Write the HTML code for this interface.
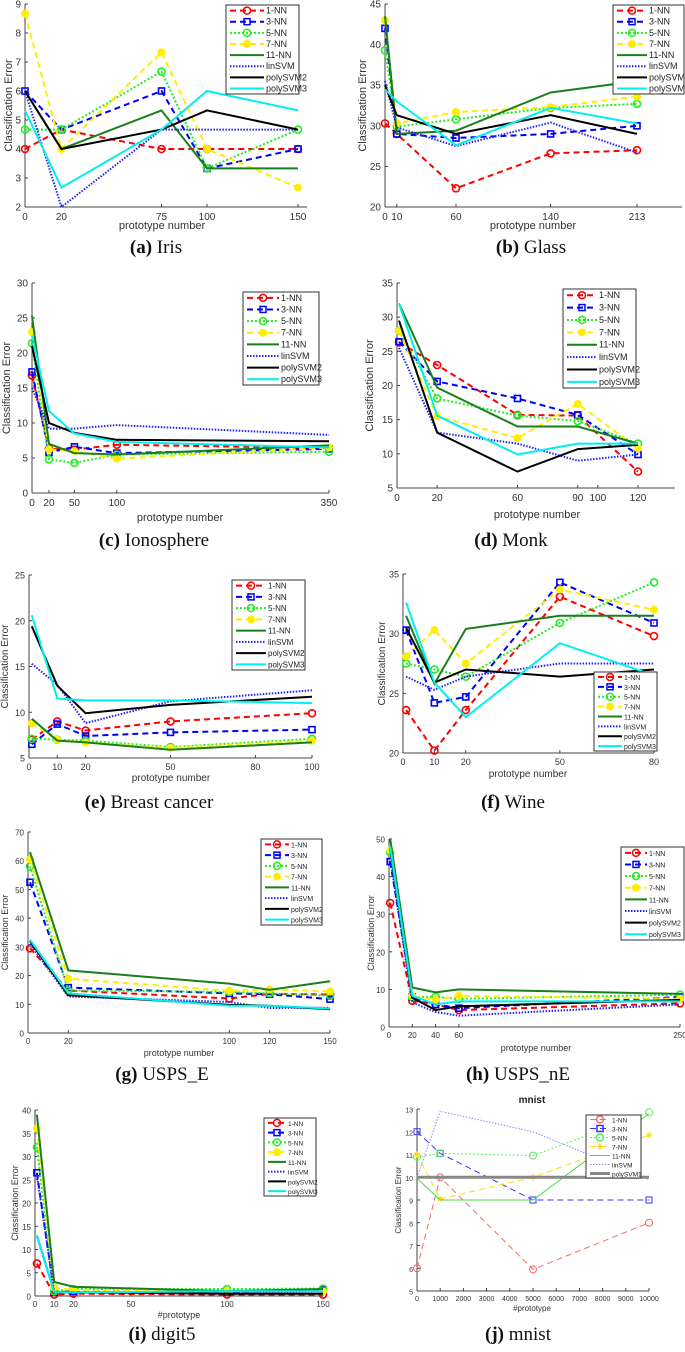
<!DOCTYPE html>
<html><head><meta charset="utf-8"><style>
body{margin:0;background:#fff;}
svg text{font-family:"Liberation Sans",sans-serif;}
.cap{font-family:"Liberation Serif",serif;font-size:19px;}
</style></head><body>
<svg id="fig" width="685" height="1347" viewBox="0 0 685 1347" xmlns="http://www.w3.org/2000/svg"></svg>
<script>
const seriesNames=["1-NN","3-NN","5-NN","7-NN","11-NN","linSVM","polySVM2","polySVM3"];
// (a) Iris
const irisX=[0,20,75,100,150];
const irisErr=[[4,4.67,4,4,4],[6,4.67,6,3.33,4],[4.67,4.67,6.67,3.33,4.67],[8.67,4,7.33,4,2.67],[6,4,5.33,3.33,3.33],[6,2,4.67,4.67,4.67],[6,4,4.67,5.33,4.67],[5.33,2.67,4.67,6,5.33]];
const irisXTicks=[0,20,75,100,150];const irisYTicks=[2,3,4,5,6,7,8,9];
// (b) Glass
const glassX=[0,10,60,140,213];
const glassErr=[[30.3,29,22.3,26.6,27],[42,29,28.5,29,30],[39.3,29.9,30.8,32.2,32.7],[43,30.3,31.7,32.3,33.6],[43.5,29,29.4,34.1,35.5],[35.5,29.8,27.5,30.4,26.7],[35,31.3,29,31.3,29],[34.5,33,27.6,32.2,30.3]];
const glassXTicks=[0,10,60,140,213];const glassYTicks=[20,25,30,35,40,45];
// (c) Ionosphere
const ionoX=[0,20,50,100,350];
const ionoErr=[[16.8,6.3,6.2,6.9,6.4],[17.3,5.8,6.6,5.7,6.3],[21.4,4.8,4.3,5.5,5.9],[23,6.2,6,4.9,6.5],[25.3,7,5.7,5.5,6.8],[15,9.2,9.2,9.7,8.3],[21,10,8.6,7.6,7.4],[22.5,11.7,8.5,7.3,6.5]];
const ionoXTicks=[0,20,50,100,350];const ionoYTicks=[0,5,10,15,20,25,30];
// (d) Monk
const monkX=[1,20,60,90,120];
const monkErr=[[26.3,23,15.7,15.6,7.4],[26.4,20.6,18.1,15.7,9.9],[28,18.1,15.6,14.8,11.5],[28,15.5,12.3,17.3,10.8],[32,19.7,14,14,11.5],[25.5,13.1,11.5,9,9.9],[29.5,13.1,7.4,10.7,11.3],[32,15.6,9.9,11.5,11.5]];
const monkXTicks=[0,20,60,90,100,120];const monkYTicks=[5,10,15,20,25,30,35];
// (e) Breast cancer
const breastX=[1,10,20,50,100];
const breastErr=[[7,9,8,9,9.9],[6.5,8.7,7.4,7.8,8.1],[7.1,7,6.9,6.2,7.1],[8.8,7,6.7,6.1,6.9],[9.3,6.9,6.7,5.9,6.7],[15.3,13,8.8,11.2,12.4],[19.4,12.9,9.9,10.8,11.7],[20.6,11.5,11.3,11.3,11]];
const breastXTicks=[0,10,20,50,80,100];const breastYTicks=[5,10,15,20,25];
// (f) Wine
const wineX=[1,10,20,50,80];
const wineErr=[[23.6,20.2,23.6,33.1,29.8],[30.3,24.2,24.7,34.3,30.9],[27.5,27,26.4,30.9,34.3],[28.1,30.3,27.5,33.7,32],[31.5,25.8,30.4,31.5,31.5],[26.4,25.3,26.4,27.5,27.5],[30.5,25.9,27,26.4,27],[32.6,25.9,23,29.2,26.5]];
const wineXTicks=[0,10,20,50,80];const wineYTicks=[20,25,30,35];
// (g) USPS_E
const uspsEX=[1,20,100,120,150];
const uspsEErr=[[29.5,14.8,12,13.6,13.4],[52.5,15.8,13.8,13.5,11.8],[58,14.8,14.3,13.8,13],[60.5,18.9,14.7,15.2,14.5],[63,21.8,17.2,15,18],[31,12.7,10.8,8.7,8.8],[32,13.2,9.8,9.5,8.3],[32.5,13.8,9.5,9.5,8.5]];
const uspsEXTicks=[0,20,100,120,150];const uspsEYTicks=[0,10,20,30,40,50,60,70];
// (h) USPS_nE
const uspsNX=[1,20,40,60,250];
const uspsNErr=[[33,7,6,4.5,6.3],[44,8,6,5,8],[46.5,8,8,7.5,8.6],[47,8.2,7.2,8.3,7.5],[50,10.5,9.2,10,8.8],[45,6.5,4,3,6],[47.5,7.8,4.5,5.5,7.2],[48,8.3,6,6.8,6.8]];
const uspsNXTicks=[0,20,40,60,250];const uspsNYTicks=[0,10,20,30,40,50];
// (i) digit5
const digitX=[1,10,20,100,150];
const digitErr=[[7,0.3,0.5,0.3,0.3],[26.5,0.8,1,0.8,1.3],[32,1,1.5,1.5,1.6],[36,1.8,1.3,1,1],[39,3,2,1,1.5],[26,0.8,0.8,0.5,1],[13,0.8,0.8,0.5,0.5],[13,0.8,0.8,1,1]];
const digitXTicks=[0,10,20,50,100,150];const digitYTicks=[0,5,10,15,20,25,30,35,40];
// (j) mnist
const mnistNames=["1-NN","3-NN","5-NN","7-NN","11-NN","linSVM","polySVM1"];
const mnistX=[0,1000,5000,10000];
const mnistErr=[[6,10,5.95,8],[12,11.05,9,9],[10.9,11.05,10.95,12.85],[11,9.05,10,11.85],[9.95,9,9,12.8],[10,12.9,12,9.9],[10,10,10,10]];
const mnistXTicks=[0,1000,2000,3000,4000,5000,6000,7000,8000,9000,10000];const mnistYTicks=[5,6,7,8,9,10,11,12,13];

const NS="http://www.w3.org/2000/svg";
const svg=document.getElementById('fig');
function mk(tag,attrs,parent){const e=document.createElementNS(NS,tag);for(const k in attrs)e.setAttribute(k,attrs[k]);(parent||svg).appendChild(e);return e;}
const styles=[
 {c:"#ff0000",d:"6,4",m:"circle",w:2},
 {c:"#0000ff",d:"6,4",m:"square",w:2},
 {c:"#22ee22",d:"2,2",m:"circle",w:2},
 {c:"#ffee00",d:"6,4",m:"dot",w:2},
 {c:"#1a7f1a",d:"",m:"",w:2},
 {c:"#2222ee",d:"1.5,1.5",m:"",w:2},
 {c:"#000000",d:"",m:"",w:2},
 {c:"#00f0f0",d:"",m:"",w:2}];
const mnistStyles=[
 {c:"#ff6666",d:"6,4",m:"circle",w:1},
 {c:"#3333ff",d:"6,4",m:"square",w:1},
 {c:"#55ee55",d:"2,2",m:"circle",w:1},
 {c:"#ffdd00",d:"6,4",m:"star",w:1},
 {c:"#44dd44",d:"",m:"",w:1},
 {c:"#8888ff",d:"1.5,1.5",m:"",w:1},
 {c:"#888888",d:"",m:"",w:3}];
function marker(g,m,x,y,c,w){
 if(m==="circle")mk('circle',{cx:x,cy:y,r:3.5,fill:"none",stroke:c,"stroke-width":w},g);
 else if(m==="square")mk('rect',{x:x-3,y:y-3,width:6,height:6,fill:"none",stroke:c,"stroke-width":w},g);
 else if(m==="dot")mk('circle',{cx:x,cy:y,r:3.5,fill:c,stroke:c},g);
 else if(m==="star"){mk('path',{d:`M${x-3},${y}H${x+3}M${x},${y-3}V${y+3}M${x-2},${y-2}L${x+2},${y+2}M${x-2},${y+2}L${x+2},${y-2}`,stroke:c,"stroke-width":1},g);}
}
function panel(p){
 const g=mk('g',{});
 
 
 const sx=v=>p.x0+(v-p.xmin)*(p.x1-p.x0)/(p.xmax-p.xmin);
 const sy=v=>p.yb-(v-p.ymin)*(p.yb-p.yt)/(p.ymax-p.ymin);
 const ax=mk('g',{},g);
 
 
 mk('line',{x1:p.x0,y1:p.yt,x2:p.x0,y2:p.yb,stroke:"#444","stroke-width":1},ax);
 mk('line',{x1:p.x0,y1:p.yb,x2:p.xend,y2:p.yb,stroke:"#444","stroke-width":1},ax);
 if(p.box){mk('line',{x1:p.x0,y1:p.yt,x2:p.xend,y2:p.yt,stroke:"#444"},ax);mk('line',{x1:p.xend,y1:p.yt,x2:p.xend,y2:p.yb,stroke:"#444"},ax);}
 p.yt_.forEach(v=>{const y=sy(v);mk('line',{x1:p.x0,y1:y,x2:p.x0+3,y2:y,stroke:"#444"},ax);
  const t=mk('text',{x:p.x0-4,y:y+3.5,"text-anchor":"end","font-size":p.fs,fill:"#333"},ax);t.textContent=v;});
 p.xt.forEach(v=>{const x=sx(v);mk('line',{x1:x,y1:p.yb,x2:x,y2:p.yb-3,stroke:"#444"},ax);
  const t=mk('text',{x:x,y:p.yb+p.fs+3,"text-anchor":"middle","font-size":p.fs,fill:"#333"},ax);t.textContent=v;});
 const yl=mk('text',{x:p.ylx,y:(p.yt+p.yb)/2,"text-anchor":"middle","font-size":p.fs+1,fill:"#333",transform:`rotate(-90 ${p.ylx} ${(p.yt+p.yb)/2})`},g);
 yl.textContent="Classification Error";
 
 
 const xl=mk('text',{x:p.xlx,y:p.xly,"text-anchor":"middle","font-size":p.fs+1,fill:"#333"},g);
 xl.textContent=p.xlabel;
 
 
 if(p.title){const tt=mk('text',{x:p.xlx,y:p.yt-6,"text-anchor":"middle","font-size":10,"font-weight":"bold",fill:"#222"},g);tt.textContent=p.title;
  
  }
 const sty=p.styles;
 p.data.forEach((row,i)=>{
  const s=sty[i];const sg=mk('g',{},g);
  
  
  const pts=row.map((v,j)=>sx(p.xs[j]).toFixed(1)+","+sy(v).toFixed(1)).join(" ");
  mk('polyline',{points:pts,fill:"none",stroke:s.c,"stroke-width":s.w,"stroke-dasharray":s.d||"none","stroke-linejoin":"miter"},sg);
  if(s.m)row.forEach((v,j)=>marker(sg,s.m,sx(p.xs[j]),sy(v),s.c,s.w===1?1:1.6));
 });
 // legend
 const L=p.leg;const lg=mk('g',{},g);
 
 
 mk('rect',{x:L.x,y:L.y,width:L.w,height:L.h,fill:"#fff",stroke:"#333","stroke-width":1},lg);
 const n=p.names.length,step=L.h/n;
 p.names.forEach((nm,i)=>{
  const s=sty[i];const y=L.y+step*(i+0.5);const e=mk('g',{},lg);
  
  
  const lx1=L.x+4,lx2=L.x+L.sw;
  mk('line',{x1:lx1,y1:y,x2:lx2,y2:y,stroke:s.c,"stroke-width":s.w,"stroke-dasharray":s.d||"none"},e);
  if(s.m)marker(e,s.m,(lx1+lx2)/2,y,s.c,1.5);
  const t=mk('text',{x:lx2+2,y:y+3,"font-size":L.fs,fill:"#222"},e);t.textContent=nm;
 });
 // caption
 const c=mk('text',{x:p.capx,y:p.capy,"text-anchor":"middle",class:"cap",fill:"#111"},svg);
 
 
 const b=mk('tspan',{"font-weight":"bold"},c);b.textContent="("+p.letter+")";
 const r=mk('tspan',{},c);r.textContent=" "+p.cap;
}
const base={names:seriesNames,styles:styles,fs:10,xlabel:"prototype number"};
function P(o){panel(Object.assign({},base,o));}
P({name:"iris",letter:"a",cap:"Iris",xs:irisX,data:irisErr,xt:irisXTicks,yt_:irisYTicks,x0:25,x1:298,xmin:0,xmax:150,xend:307,yb:207,yt:4,ymin:2,ymax:9,ylx:12,xlx:162,xly:229,capx:156,capy:253,leg:{x:226,y:5,w:73,h:89,sw:38,fs:9}});
P({name:"glass",letter:"b",cap:"Glass",xs:glassX,data:glassErr,xt:glassXTicks,yt_:glassYTicks,x0:385,x1:637,xmin:0,xmax:213,xend:682,yb:207,yt:4,ymin:20,ymax:45,ylx:366,xlx:533,xly:229,capx:531,capy:253,leg:{x:613,y:5,w:71,h:89,sw:34,fs:9}});
P({name:"ionosphere",letter:"c",cap:"Ionosphere",xs:ionoX,data:ionoErr,xt:ionoXTicks,yt_:ionoYTicks,x0:32,x1:329,xmin:0,xmax:350,xend:329,yb:493,yt:283,ymin:0,ymax:30,ylx:10,xlx:180,xly:521,capx:154,capy:546,leg:{x:243,y:292,w:76,h:93,sw:36,fs:9}});
P({name:"monk",letter:"d",cap:"Monk",xs:monkX,data:monkErr,xt:monkXTicks,yt_:monkYTicks,x0:397,x1:638,xmin:0,xmax:120,xend:675,yb:488,yt:283,ymin:5,ymax:35,ylx:373,xlx:537,xly:518,capx:511,capy:546,leg:{x:563,y:289,w:73,h:99,sw:34,fs:9}});
P({name:"breast-cancer",letter:"e",cap:"Breast cancer",xs:breastX,data:breastErr,xt:breastXTicks,yt_:breastYTicks,fs:9,x0:29,x1:312,xmin:0,xmax:100,xend:312,yb:758,yt:575,ymin:5,ymax:25,ylx:8,xlx:171,xly:781,capx:149,capy:808,leg:{x:232,y:580,w:73,h:90,sw:34,fs:8}});
P({name:"wine",letter:"f",cap:"Wine",xs:wineX,data:wineErr,xt:wineXTicks,yt_:wineYTicks,fs:9,x0:403,x1:654,xmin:0,xmax:80,xend:654,yb:753,yt:574,ymin:20,ymax:35,ylx:385,xlx:528,xly:777,capx:513,capy:808,leg:{x:594,y:672,w:63,h:79,sw:28,fs:7}});
P({name:"usps-e",letter:"g",cap:"USPS_E",xs:uspsEX,data:uspsEErr,xt:uspsEXTicks,yt_:uspsEYTicks,fs:8,x0:28,x1:330,xmin:0,xmax:150,xend:330,yb:1033,yt:832,ymin:0,ymax:70,ylx:8,xlx:179,xly:1056,capx:162,capy:1080,leg:{x:261,y:839,w:61,h:86,sw:28,fs:7}});
P({name:"usps-ne",letter:"h",cap:"USPS_nE",xs:uspsNX,data:uspsNErr,xt:uspsNXTicks,yt_:uspsNYTicks,fs:8,x0:389,x1:680,xmin:0,xmax:250,xend:680,yb:1027,yt:839,ymin:0,ymax:50,ylx:374,xlx:536,xly:1051,capx:518,capy:1080,leg:{x:621,y:847,w:63,h:93,sw:26,fs:7}});
P({name:"digit5",letter:"i",cap:"digit5",xs:digitX,data:digitErr,xt:digitXTicks,yt_:digitYTicks,fs:8,x0:35,x1:323,xmin:0,xmax:150,xend:323,yb:1296,yt:1110,ymin:0,ymax:40,ylx:18,xlx:179,xly:1318,capx:162,capy:1340,xlabel:"#prototype",leg:{x:264,y:1118,w:52,h:78,sw:22,fs:6.5}});
P({name:"mnist",letter:"j",cap:"mnist",names:mnistNames,styles:mnistStyles,xs:mnistX,data:mnistErr,xt:mnistXTicks,yt_:mnistYTicks,fs:7,x0:417,x1:649,xmin:0,xmax:10000,xend:649,box:false,yb:1291,yt:1109,ymin:5,ymax:13,ylx:401,xlx:532,xly:1311,capx:518,capy:1340,xlabel:"#prototype",title:"mnist",leg:{x:586,y:1115,w:55,h:63,sw:24,fs:6.5}});
</script>
</body></html>
